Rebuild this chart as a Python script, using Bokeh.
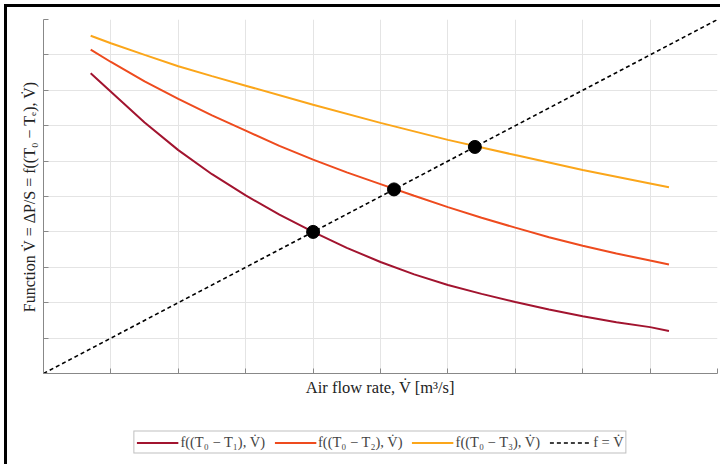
from bokeh.plotting import figure
from bokeh.layouts import column
from bokeh.models import Range1d, FixedTicker, Legend, LegendItem
from bokeh.embed import file_html
from bokeh.resources import INLINE

# ---- data ----
x1 = [0.7, 1.0, 1.5, 2.0, 2.5, 3.0, 3.5, 4.0, 4.5, 5.0, 5.5, 6.0, 6.5, 7.0, 7.5, 8.0, 8.5, 9.0, 9.28]
y1 = [8.48, 7.96, 7.09, 6.31, 5.63, 5.03, 4.49, 4.00, 3.55, 3.15, 2.80, 2.50, 2.25, 2.02, 1.81, 1.62, 1.45, 1.31, 1.20]

x2 = [0.7, 1.0, 1.5, 2.0, 2.5, 3.0, 3.5, 4.0, 4.5, 5.0, 5.5, 6.0, 6.5, 7.0, 7.5, 8.0, 8.5, 9.0, 9.28]
y2 = [9.15, 8.80, 8.25, 7.76, 7.29, 6.86, 6.43, 6.04, 5.68, 5.35, 5.02, 4.70, 4.40, 4.12, 3.85, 3.61, 3.39, 3.19, 3.08]

x3 = [0.7, 1.0, 1.5, 2.0, 2.5, 3.0, 4.0, 5.0, 6.0, 7.0, 8.0, 9.0, 9.28]
y3 = [9.54, 9.33, 9.00, 8.68, 8.40, 8.13, 7.59, 7.08, 6.60, 6.17, 5.75, 5.37, 5.26]

xd = [0, 10]
yd = [0, 10]

xi = [4.0, 5.2, 6.4]
yi = [4.0, 5.2, 6.4]

ticks = [0, 1, 2, 3, 4, 5, 6, 7, 8, 9, 10]

labels = ["f((T₀ − T₁), V̇)", "f((T₀ − T₂), V̇)", "f((T₀ − T₃), V̇)", "f = V̇"]
xlabel = "Air flow rate, V̇ [m³/s]"
ylabel = "Function V̇ = ΔP/S = f((T₀ − Tₑ), V̇)"

colors = ["#A2142F", "#EE4B1E", "#FBA61A"]
dash = "4 3"

SERIF = "Liberation Serif"

# ---- main chart ----
p = figure(width=713, height=413, output_backend="svg", toolbar_location=None,
           x_range=Range1d(0, 10), y_range=Range1d(0, 10),
           min_border_left=36, min_border_right=3, min_border_top=12, min_border_bottom=47)
p.outline_line_color = None
p.background_fill_color = "white"
p.border_fill_color = "white"

for ax in (p.xaxis[0], p.yaxis[0]):
    ax.ticker = FixedTicker(ticks=ticks)
    ax.major_tick_in = 5
    ax.major_tick_out = 0
    ax.minor_tick_line_color = None
    ax.major_label_standoff = 0
    ax.major_label_text_font_size = "1px"
    ax.major_label_text_color = None
    ax.axis_line_color = "#888888"
    ax.major_tick_line_color = "#888888"
    ax.axis_label_text_font = SERIF
    ax.axis_label_text_font_style = "normal"
    ax.axis_label_text_color = "#222222"

p.xaxis.axis_label = xlabel
p.yaxis.axis_label = ylabel
p.xaxis.axis_label_text_font_size = "16.5px"
p.yaxis.axis_label_text_font_size = "16px"
p.xaxis.axis_label_standoff = 4
p.yaxis.axis_label_standoff = 6

p.xgrid.ticker = FixedTicker(ticks=ticks)
p.ygrid.ticker = FixedTicker(ticks=ticks)
p.grid.grid_line_color = "#e4e4e4"
p.grid.grid_line_width = 1

p.line(x1, y1, line_color=colors[0], line_width=2)
p.line(x2, y2, line_color=colors[1], line_width=2)
p.line(x3, y3, line_color=colors[2], line_width=2)
p.line(xd, yd, line_color="black", line_width=1.6, line_dash=dash)
p.scatter(xi, yi, size=13, fill_color="black", line_color="black")

# ---- legend strip below the chart (same series, kept out of its view) ----
q = figure(width=713, height=44, output_backend="svg", toolbar_location=None,
           x_range=Range1d(0, 10), y_range=Range1d(-30, -20),
           x_axis_location=None, y_axis_location=None,
           min_border_left=36, min_border_right=3, min_border_top=0, min_border_bottom=0)
q.outline_line_color = None
q.grid.visible = False
q.border_fill_color = "white"
q.background_fill_color = "white"

k1 = q.line(x1, y1, line_color=colors[0], line_width=2)
k2 = q.line(x2, y2, line_color=colors[1], line_width=2)
k3 = q.line(x3, y3, line_color=colors[2], line_width=2)
kd = q.line(xd, yd, line_color="black", line_width=1.6, line_dash=dash)

legend = Legend(items=[LegendItem(label=labels[0], renderers=[k1]),
                       LegendItem(label=labels[1], renderers=[k2]),
                       LegendItem(label=labels[2], renderers=[k3]),
                       LegendItem(label=labels[3], renderers=[kd])],
                orientation="horizontal", location="center")
legend.label_text_font = SERIF
legend.label_text_font_size = "14.5px"
legend.glyph_width = 42
legend.glyph_height = 12
legend.label_height = 12
legend.label_standoff = 2
legend.spacing = 9
legend.padding = 2
legend.margin = 0
legend.border_line_color = "#808080"
legend.border_line_width = 1
legend.background_fill_color = "white"
legend.background_fill_alpha = 1
q.add_layout(legend, "center")

layout = column(p, q, spacing=0,
                styles={"margin-left": "4px", "margin-top": "4px",
                        "border-left": "3px solid black", "border-top": "3px solid black"})

open("out.html", "w").write(file_html(layout, INLINE))
